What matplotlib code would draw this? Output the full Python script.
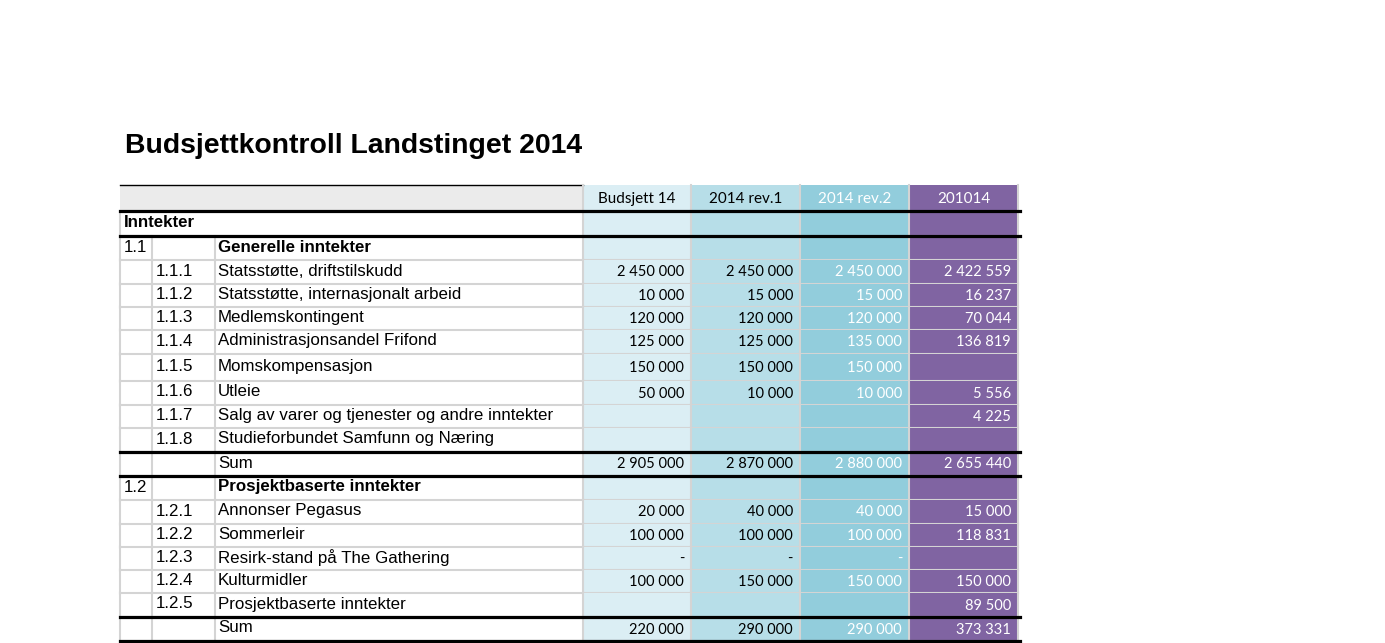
import numpy as np
import matplotlib.pyplot as plt
from matplotlib.patches import Rectangle

# ---- Data ----
title = "Budsjettkontroll Landstinget 2014"
col_headers = ["Budsjett 14", "2014 rev.1", "2014 rev.2", "201014"]

row_codes = ["Inntekter", "1.1", "1.1.1", "1.1.2", "1.1.3", "1.1.4", "1.1.5", "1.1.6",
             "1.1.7", "1.1.8", "", "1.2", "1.2.1", "1.2.2", "1.2.3", "1.2.4", "1.2.5", ""]
row_labels = ["", "Generelle inntekter", "Statsstøtte, driftstilskudd",
              "Statsstøtte, internasjonalt arbeid", "Medlemskontingent",
              "Administrasjonsandel Frifond", "Momskompensasjon", "Utleie",
              "Salg av varer og tjenester og andre inntekter",
              "Studieforbundet Samfunn og Næring", "Sum", "Prosjektbaserte inntekter",
              "Annonser Pegasus", "Sommerleir", "Resirk-stand på The Gathering",
              "Kulturmidler", "Prosjektbaserte inntekter", "Sum"]
nan = np.nan
budsjett = [nan, nan, 2450000, 10000, 120000, 125000, 150000, 50000, nan, nan,
            2905000, nan, 20000, 100000, 0, 100000, nan, 220000]
rev1 = [nan, nan, 2450000, 15000, 120000, 125000, 150000, 10000, nan, nan,
        2870000, nan, 40000, 100000, 0, 150000, nan, 290000]
rev2 = [nan, nan, 2450000, 15000, 120000, 135000, 150000, 10000, nan, nan,
        2880000, nan, 40000, 100000, 0, 150000, nan, 290000]
regnskap = [nan, nan, 2422559, 16237, 70044, 136819, nan, 5556, 4225, nan,
            2655440, nan, 15000, 118831, nan, 150000, 89500, 373331]

# ---- Layout (pixels) ----
col_edges = [120, 152, 215, 583, 691, 800, 909, 1018]
header_top, header_h = 185, 26
row_h = [25, 24, 24, 23, 23, 24, 27, 24, 23, 24, 24, 24, 24, 23, 23, 23, 24, 24]
bold_rows = [0, 1, 11]
thick_after = [-1, 0, 9, 10, 16, 17]   # thick line below these rows (-1 = header)

fill_cols = ["#DBEEF4", "#B7DEE8", "#92CDDC", "#8064A2"]
text_cols = ["black", "black", "white", "white"]
grid = "#D4D4D4"

def fmt(v):
    if np.isnan(v):
        return ""
    if v == 0:
        return "-"
    return f"{int(v):,}".replace(",", " ")

fig = plt.figure(figsize=(13.85, 6.43), dpi=100)
ax = fig.add_axes([0, 0, 1, 1])
ax.set_xlim(0, 1385)
ax.set_ylim(643, 0)
ax.axis('off')

label_font = "Liberation Sans"
num_font = "Lato"
lab_size = 12.2

ax.text(125, 146, title, fontsize=20.4, fontweight='bold', family=label_font,
        va='center', ha='left')

# header row
y0 = header_top
ax.add_patch(Rectangle((col_edges[0], y0), col_edges[3] - col_edges[0], header_h,
                       facecolor="#EBEBEB", edgecolor='none'))
ax.plot([col_edges[0], col_edges[3]], [y0, y0], color='black', lw=1.0)
for j, name in enumerate(col_headers):
    x0, x1 = col_edges[3 + j], col_edges[4 + j]
    ax.add_patch(Rectangle((x0, y0), x1 - x0, header_h, facecolor=fill_cols[j], edgecolor='none'))
    ax.text((x0 + x1) / 2, y0 + header_h / 2 + 1, name, color=text_cols[j], fontsize=11,
            family=num_font, ha='center', va='center')
for x in col_edges[3:]:
    ax.plot([x, x], [y0, y0 + header_h], color=grid, lw=1.5)

# body rows
tops = header_top + header_h + np.concatenate([[0], np.cumsum(row_h)[:-1]])
values = [budsjett, rev1, rev2, regnskap]
for i, (top, h) in enumerate(zip(tops, row_h)):
    bot = top + h
    mid = top + h / 2 - 1
    weight = 'bold' if i in bold_rows else 'normal'
    for j in range(4):
        x0, x1 = col_edges[3 + j], col_edges[4 + j]
        ax.add_patch(Rectangle((x0, top), x1 - x0, h, facecolor=fill_cols[j], edgecolor='none'))
        ax.text(x1 - 7, mid + 1.5, fmt(values[j][i]), color=text_cols[j], fontsize=10.5,
                family=num_font, ha='right', va='center')
    code = row_codes[i]
    if i == 0:
        ax.text(col_edges[0] + 4, mid, code, fontsize=lab_size, fontweight='bold',
                family=label_font, va='center')
    elif code.count('.') == 1:
        ax.text(col_edges[0] + 4, mid, code, fontsize=lab_size, family=label_font, va='center')
    else:
        ax.text(col_edges[1] + 4, mid, code, fontsize=lab_size, family=label_font, va='center')
    ax.text(col_edges[2] + 3, mid, row_labels[i], fontsize=lab_size, fontweight=weight,
            family=label_font, va='center')
    # vertical grid
    xs = [col_edges[0], col_edges[3]] if i == 0 else col_edges[:4]
    for x in xs:
        ax.plot([x, x], [top, bot], color=grid, lw=1.5, zorder=1)
    for x in col_edges[4:]:
        ax.plot([x, x], [top, bot], color=grid, lw=1.5, zorder=1)
    ax.plot([col_edges[0], col_edges[-1]], [bot, bot], color=grid, lw=1.5, zorder=1)

# thick separators
for k in thick_after:
    y = header_top + header_h if k < 0 else tops[k] + row_h[k]
    ax.plot([col_edges[0], col_edges[-1] + 2], [y, y], color='black', lw=2.3, zorder=3)

fig.savefig("out.png", dpi=100)
